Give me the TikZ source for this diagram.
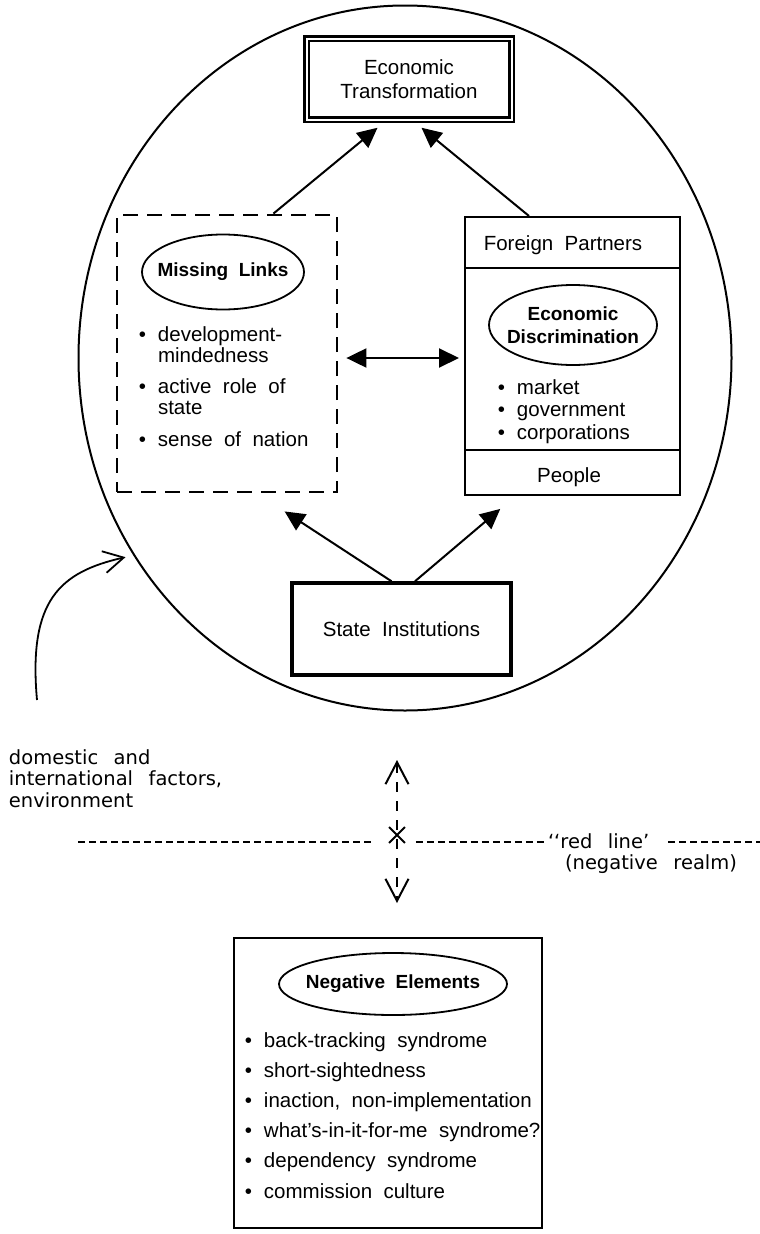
\documentclass[tikz,border=0pt]{standalone}
\usepackage{fontspec}
\setmainfont{Liberation Sans}[WordSpace=2]
\newfontfamily\notefont{DejaVu Sans}[WordSpace=2.5]
\usetikzlibrary{arrows.meta,shapes,positioning}
\newcommand{\dotitem}{\llap{•\hspace{12pt}}}

\begin{document}
\begin{tikzpicture}[x=1pt,y=-1pt,line width=2pt,>={Triangle[length=20pt,width=19pt]},
    font=\fontsize{20.5}{21}\selectfont]
    \tikzstyle{box}=[draw, line width=2pt, inner sep=0pt]
    \tikzstyle{title}=[draw, ellipse, line width=1.8pt, inner sep=0pt, inner xsep=-10pt, align=center, font=\bfseries\fontsize{19}{23}\selectfont]
    \tikzstyle{txt}=[inner sep=0pt, align=left, anchor=base west]
    \tikzstyle{note}=[inner sep=0pt, align=left, font=\notefont\fontsize{19.5}{21.5}\selectfont]
    \tikzstyle{dotline}=[line width=2pt, dash pattern=on 7pt off 4pt]
    \tikzstyle{barb}=[{Straight Barb[length=22pt,width=23pt]}-{Straight Barb[length=22pt,width=23pt]}]

    \useasboundingbox (0,0) rectangle (760,1234);

    % the circle
    \node[draw, ellipse, minimum width=653pt, minimum height=705pt] (realm) at (405,358) {};

    \node[box, double, double distance=2pt, line width=2.5pt, minimum width=205pt, minimum height=81pt, align=center, font=\fontsize{20.5}{24}\selectfont] (trans) at (409,79) {Economic\\Transformation};
    \node[box, line width=2.8pt, dash pattern=on 15pt off 9pt, minimum width=220pt, minimum height=277pt] (links) at (227,353.5) {};
    \node[box, minimum width=215pt, minimum height=278pt] (partners) at (572.5,356) {};
    \node[box, line width=3.5pt, minimum width=219pt, minimum height=92pt] (state) at (401.5,629) {State Institutions};

    \node[title, minimum width=162pt, minimum height=75pt] (linkstitle) at (223,272) {Missing Links};
    \node[txt] (links1) at (157,362) {\dotitem development-\\mindedness};
    \node[txt] (links2) at (157,414) {\dotitem active role of\\state};
    \node[txt] (links3) at (157,446) {\dotitem sense of nation};

    \node[anchor=base, inner sep=0pt] (foreign) at (563,250) {Foreign Partners};
    \node[title, minimum width=168pt, minimum height=80pt] (disctitle) at (573,325) {Economic\\Discrimination};
    \node[txt, font=\fontsize{20.5}{22.5}\selectfont] (disclist) at (516,439) {\dotitem market\\\dotitem government\\\dotitem corporations};
    \node[anchor=base, inner sep=0pt] (people) at (569,482) {People};
    \draw[line width=1.5pt] (partners.west |- 0,268) -- (partners.east |- 0,268);
    \draw[line width=1.5pt] (partners.west |- 0,450) -- (partners.east |- 0,450);

    \path[->]
     ([xshift=-65pt]links.north east) edge[shorten >=11pt] ([xshift=-23pt]trans.south)
     ([xshift=65pt]partners.north west) edge[shorten >=11pt] ([xshift=4pt]trans.south)
     ([yshift=-4.5pt]links.east) edge[<->, shorten <=8pt, shorten >=5pt] ([yshift=-2pt]partners.west)
     ([xshift=-10pt]state.north) edge[shorten >=33pt] ([xshift=30pt]links.south)
     ([xshift=13.5pt]state.north) edge[shorten >=20pt] ([xshift=-57pt]partners.south);

    % outside factors
    \coordinate (envfoot) at (37,700);
    \node[note, anchor=base west] (env) at (8,807) {domestic and\\international factors,\\environment};
    \draw[-{Straight Barb[length=20pt,width=22pt]}, line width=1.8pt, shorten >=8pt] (envfoot) .. controls (28,600) and (60,572) .. (realm.216);

    % red line
    \coordinate (up) at (397,760);
    \coordinate (down) at (397,903);
    \draw[barb, dash pattern=on 10pt off 9pt] (up) -- (down);
    \node[cross out, draw, line width=1.8pt, minimum size=14pt, inner sep=0pt] (cross) at (397,835) {};
    \coordinate (lineleft) at (78,842);
    \coordinate (linemid) at (668,842);
    \coordinate (lineright) at (760,842);
    \node[note, anchor=base west] (redline) at (547,848) {‘‘red line’};
    \node[note, anchor=base] (negrealm) at (651,869) {(negative realm)};
    \draw[dotline, shorten >=18pt] (lineleft) -- (cross.west |- lineleft);
    \draw[dotline, shorten <=11pt] (cross.east |- lineleft) -- (redline.west |- lineleft);
    \draw[dotline] (linemid) -- (lineright);

    % negative side
    \node[box, minimum width=308pt, minimum height=290pt] (negbox) at (388,1083) {};
    \node[title, minimum width=228pt, minimum height=62pt] (negtitle) at (393,984) {Negative Elements};
    \node[txt, font=\fontsize{20.5}{30.2}\selectfont] (neglist) at (263,1198) {\dotitem back-tracking syndrome\\\dotitem short-sightedness\\\dotitem inaction, non-implementation\\\dotitem what's-in-it-for-me syndrome?\\\dotitem dependency syndrome\\\dotitem commission culture};
\end{tikzpicture}
\end{document}
